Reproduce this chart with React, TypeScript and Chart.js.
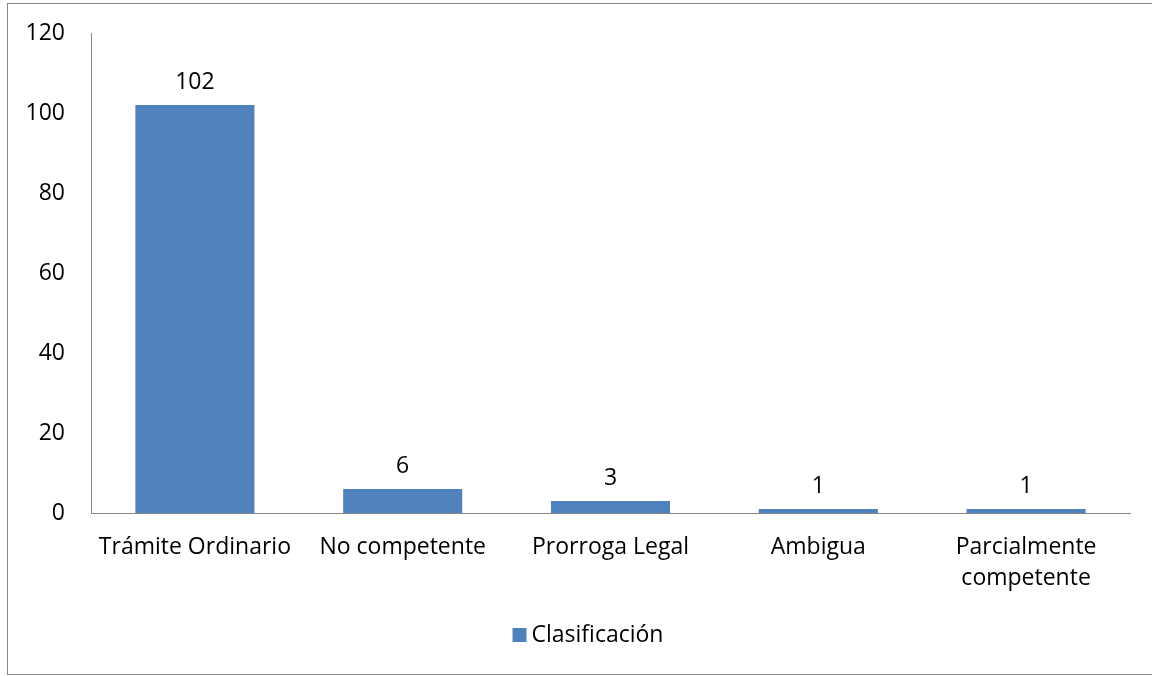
import React, { useEffect, useRef } from "react";
import { Chart, registerables } from "chart.js";

Chart.register(...registerables);

const categories: (string | string[])[] = [
  "Trámite Ordinario",
  "No competente",
  "Prorroga Legal",
  "Ambigua",
  ["Parcialmente", "competente"],
];
const seriesName = "Clasificación";
const values = [102, 6, 3, 1, 1];
const yTicks = [0, 20, 40, 60, 80, 100, 120];

const FONT = "'Open Sans', Lato, sans-serif";
const FS = 23;
const BAR = "#4F81BD";
const AXIS = "#868686";

const frame = {
  id: "frame",
  beforeDraw(chart: any) {
    const ctx = chart.ctx;
    ctx.save();
    ctx.fillStyle = "#ffffff";
    ctx.fillRect(0, 0, chart.width, chart.height);
    ctx.strokeStyle = AXIS;
    ctx.lineWidth = 1;
    ctx.strokeRect(7.5, 3.5, chart.width + 10, 671);
    ctx.restore();
  },
};

const dataLabels = {
  id: "dataLabels",
  afterDatasetsDraw(chart: any) {
    const ctx = chart.ctx;
    ctx.save();
    ctx.font = `${FS}px ${FONT}`;
    ctx.fillStyle = "#000000";
    ctx.textAlign = "center";
    ctx.textBaseline = "middle";
    chart.data.datasets.forEach((ds: any, i: number) => {
      const meta = chart.getDatasetMeta(i);
      meta.data.forEach((bar: any, j: number) => {
        ctx.fillText(String(ds.data[j]), bar.x, bar.y - 23);
      });
    });
    ctx.restore();
  },
};

const bottomLegend = {
  id: "bottomLegend",
  afterDraw(chart: any) {
    const ctx = chart.ctx;
    ctx.save();
    ctx.font = `${FS}px ${FONT}`;
    chart.data.datasets.forEach((ds: any) => {
      const label = String(ds.label);
      const tw = ctx.measureText(label).width;
      const box = 14;
      const gap = 5;
      const total = box + gap + tw;
      const cx = 588;
      const cy = 635;
      const x0 = cx - total / 2;
      ctx.fillStyle = ds.backgroundColor;
      ctx.fillRect(x0, cy - box / 2, box, box);
      ctx.fillStyle = "#000000";
      ctx.textAlign = "left";
      ctx.textBaseline = "middle";
      ctx.fillText(label, x0 + box + gap, cy);
    });
    ctx.restore();
  },
};

export default function App() {
  const ref = useRef<HTMLCanvasElement | null>(null);
  useEffect(() => {
    if (!ref.current) return;
    const chart = new Chart(ref.current, {
      type: "bar",
      data: {
        labels: categories,
        datasets: [
          {
            label: seriesName,
            data: values,
            backgroundColor: BAR,
            borderWidth: 0,
            barPercentage: 0.573,
            categoryPercentage: 1,
          },
        ],
      },
      options: {
        responsive: false,
        animation: false,
        layout: { padding: { top: 33, right: 22, bottom: 0, left: 0 } },
        plugins: {
          tooltip: { enabled: false },
          legend: { display: false },
        },
        scales: {
          x: {
            grid: { display: false, drawTicks: false },
            border: { display: true, color: AXIS, width: 1 },
            ticks: {
              color: "#000000",
              font: { family: FONT, size: FS, lineHeight: 1.35 },
              padding: 19,
              maxRotation: 0,
              autoSkip: false,
            },
            afterFit(scale: any) {
              scale.height = 163;
              scale.paddingLeft = 0;
              scale.paddingRight = 0;
            },
          },
          y: {
            min: 0,
            max: 120,
            grid: { display: false, drawTicks: false },
            border: { display: true, color: AXIS, width: 1 },
            afterBuildTicks(scale: any) {
              scale.ticks = yTicks.map((v) => ({ value: v }));
            },
            ticks: {
              color: "#000000",
              font: { family: FONT, size: FS },
              padding: 26,
            },
            afterFit(scale: any) {
              scale.width = 91;
              scale.paddingTop = 0;
              scale.paddingBottom = 0;
            },
          },
        },
      },
      plugins: [frame, dataLabels, bottomLegend],
    });
    return () => chart.destroy();
  }, []);
  return (
    <div style={{ position: "fixed", left: 0, top: 0, width: 1152, height: 676 }}>
      <canvas ref={ref} width={1152} height={676} style={{ display: "block" }} />
    </div>
  );
}
